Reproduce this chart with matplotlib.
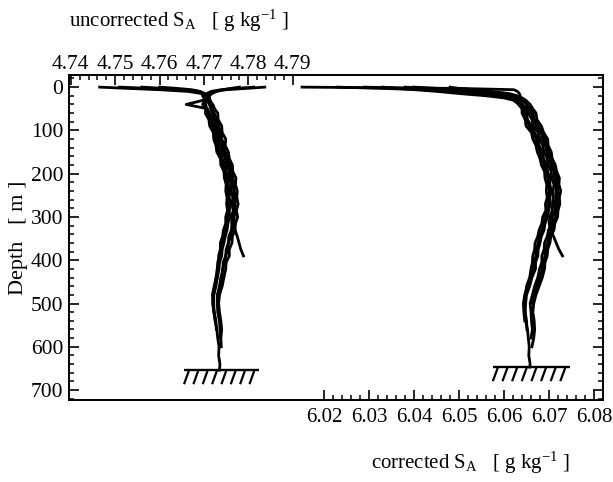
import numpy as np
import matplotlib
matplotlib.use("Agg")
import matplotlib.pyplot as plt
from matplotlib.ticker import FixedLocator, MultipleLocator

plt.rcParams['font.family'] = ['Liberation Serif', 'DejaVu Serif']
plt.rcParams['mathtext.fontset'] = 'custom'
plt.rcParams['mathtext.rm'] = 'Liberation Serif'
plt.rcParams['mathtext.it'] = 'Liberation Serif:italic'

# depth levels [m] of the casts (left bundle ends at 654 m, right at 647 m)
depth_unc = [0, 3, 6, 10, 15, 20, 25, 30, 40, 50, 60, 75, 90, 105, 120, 135, 150, 165,
             180, 195, 210, 225, 240, 255, 270, 285, 300, 315, 330, 345, 360, 375, 390,
             405, 420, 440, 460, 480, 500, 520, 540, 560, 580, 600, 620, 640, 654]
depth_cor = depth_unc[:-1] + [647]

# uncorrected S_A [g/kg], one list per cast
unc_1 = [4.7465, 4.7530, 4.7600, 4.7665, 4.7695,
         4.7699, 4.7700, 4.7703, 4.7697, 4.7704, 4.7703, 4.7711, 4.7713, 4.7721, 4.7722,
         4.7727, 4.7729, 4.7737, 4.7738, 4.7745, 4.7746, 4.7750, 4.7749, 4.7752, 4.7751,
         4.7753, 4.7749, 4.7749, 4.7744, 4.7742, 4.7737, 4.7737, 4.7733, 4.7734, 4.7730,
         4.7730, 4.7725, 4.7722, 4.7720, 4.7723, 4.7725, 4.7729, 4.7731, 4.7734, 4.7733,
         4.7736, 4.7735]
unc_2 = [4.7837, 4.7795, 4.7750, 4.7724, 4.7712,
         4.7708, 4.7713, 4.7712, 4.7720, 4.7724, 4.7731, 4.7732, 4.7740, 4.7741, 4.7749,
         4.7748, 4.7755, 4.7757, 4.7764, 4.7765, 4.7772, 4.7771, 4.7775, 4.7774, 4.7777,
         4.7773, 4.7776, 4.7771, 4.7770, 4.7764, 4.7763, 4.7757, 4.7757, 4.7750, 4.7749,
         4.7745, 4.7741, 4.7735, 4.7733, 4.7735, 4.7738, 4.7740, 4.7738, 4.7739]
unc_3 = [4.7812, 4.7772, 4.7738, 4.7716, 4.7706,
         4.7706, 4.7709, 4.7704, 4.7714, 4.7716, 4.7722, 4.7724, 4.7731, 4.7736, 4.7738,
         4.7743, 4.7745, 4.7752, 4.7754, 4.7761, 4.7762, 4.7766, 4.7767, 4.7768, 4.7769,
         4.7766, 4.7767, 4.7763, 4.7762, 4.7756, 4.7755, 4.7750, 4.7749, 4.7743, 4.7743,
         4.7738, 4.7735, 4.7730, 4.7730, 4.7731, 4.7735, 4.7736, 4.7737]
unc_4 = [4.7600, 4.7640, 4.7672, 4.7692, 4.7702,
         4.7708, 4.7712, 4.7700, 4.7660, 4.7708, 4.7712, 4.7717, 4.7721, 4.7727, 4.7730,
         4.7733, 4.7738, 4.7741, 4.7747, 4.7750, 4.7755, 4.7755, 4.7758, 4.7757, 4.7760,
         4.7757, 4.7758, 4.7754, 4.7752, 4.7748, 4.7745, 4.7741, 4.7740, 4.7735, 4.7734,
         4.7730, 4.7727, 4.7722, 4.7722, 4.7723, 4.7727, 4.7728]
unc_5 = [4.7560, 4.7610, 4.7655, 4.7688, 4.7700,
         4.7706, 4.7708, 4.7710, 4.7712, 4.7716, 4.7718, 4.7723, 4.7726, 4.7732, 4.7734,
         4.7739, 4.7741, 4.7748, 4.7750, 4.7757, 4.7758, 4.7762, 4.7761, 4.7765, 4.7763,
         4.7766, 4.7762, 4.7763, 4.7770, 4.7775, 4.7779, 4.7783, 4.7789]
unc_6 = [4.7780, 4.7760, 4.7742, 4.7728, 4.7718,
         4.7712, 4.7710, 4.7714, 4.7716, 4.7722, 4.7723, 4.7729, 4.7733, 4.7739, 4.7740,
         4.7747, 4.7748, 4.7755, 4.7758, 4.7764, 4.7765, 4.7769, 4.7768, 4.7772, 4.7770,
         4.7771, 4.7768, 4.7768, 4.7763, 4.7760, 4.7755, 4.7753, 4.7749, 4.7747, 4.7742,
         4.7741, 4.7736, 4.7734, 4.7731]
unc_7 = [4.7510, 4.7580, 4.7640, 4.7680, 4.7698,
         4.7697, 4.7701, 4.7699, 4.7704, 4.7706, 4.7710, 4.7713, 4.7716, 4.7724, 4.7724,
         4.7731, 4.7732, 4.7738, 4.7742, 4.7747, 4.7749, 4.7752, 4.7754, 4.7755, 4.7754,
         4.7756, 4.7752, 4.7751, 4.7748, 4.7744, 4.7741, 4.7737, 4.7735, 4.7731, 4.7730,
         4.7727, 4.7723, 4.7719, 4.7720, 4.7722, 4.7726]

# corrected S_A [g/kg], one list per cast
cor_1 = [6.0151, 6.0500, 6.0622, 6.0630, 6.0634,
         6.0636, 6.0637, 6.0636, 6.0637, 6.0640, 6.0640, 6.0647, 6.0649, 6.0661, 6.0664,
         6.0671, 6.0674, 6.0680, 6.0683, 6.0690, 6.0691, 6.0695, 6.0694, 6.0696, 6.0692,
         6.0693, 6.0686, 6.0684, 6.0678, 6.0675, 6.0669, 6.0668, 6.0664, 6.0663, 6.0660,
         6.0657, 6.0650, 6.0648, 6.0644, 6.0647, 6.0648, 6.0652, 6.0654, 6.0656, 6.0655,
         6.0658, 6.0657]
cor_2 = [6.0290, 6.0400, 6.0482, 6.0560, 6.0606,
         6.0626, 6.0640, 6.0648, 6.0658, 6.0664, 6.0671, 6.0673, 6.0683, 6.0688, 6.0697,
         6.0698, 6.0705, 6.0707, 6.0714, 6.0717, 6.0723, 6.0722, 6.0726, 6.0723, 6.0724,
         6.0720, 6.0719, 6.0713, 6.0711, 6.0704, 6.0702, 6.0697, 6.0696, 6.0691, 6.0690,
         6.0685, 6.0678, 6.0671, 6.0666, 6.0664, 6.0667, 6.0668, 6.0666, 6.0662]
cor_3 = [6.0400, 6.0452, 6.0512, 6.0572, 6.0612,
         6.0629, 6.0634, 6.0644, 6.0650, 6.0658, 6.0660, 6.0668, 6.0671, 6.0683, 6.0686,
         6.0692, 6.0695, 6.0701, 6.0704, 6.0711, 6.0712, 6.0716, 6.0716, 6.0716, 6.0713,
         6.0713, 6.0707, 6.0705, 6.0699, 6.0696, 6.0690, 6.0689, 6.0684, 6.0684, 6.0679,
         6.0675, 6.0668, 6.0663, 6.0658, 6.0660, 6.0661, 6.0663, 6.0660]
cor_4 = [6.0330, 6.0362, 6.0402, 6.0452, 6.0502,
         6.0560, 6.0600, 6.0620, 6.0634, 6.0645, 6.0650, 6.0652, 6.0661, 6.0668, 6.0676,
         6.0678, 6.0685, 6.0688, 6.0694, 6.0697, 6.0702, 6.0702, 6.0705, 6.0702, 6.0703,
         6.0699, 6.0697, 6.0691, 6.0689, 6.0683, 6.0680, 6.0676, 6.0675, 6.0670, 6.0670,
         6.0662, 6.0657, 6.0650, 6.0648, 6.0647, 6.0650, 6.0651]
cor_5 = [6.0480, 6.0500, 6.0530, 6.0560, 6.0585,
         6.0600, 6.0615, 6.0626, 6.0640, 6.0651, 6.0654, 6.0662, 6.0665, 6.0676, 6.0680,
         6.0686, 6.0689, 6.0696, 6.0698, 6.0705, 6.0706, 6.0711, 6.0709, 6.0710, 6.0708,
         6.0707, 6.0702, 6.0700, 6.0704, 6.0710, 6.0716, 6.0722, 6.0730]
cor_6 = [6.0380, 6.0430, 6.0470, 6.0520, 6.0580,
         6.0610, 6.0625, 6.0638, 6.0650, 6.0657, 6.0665, 6.0667, 6.0677, 6.0682, 6.0692,
         6.0694, 6.0700, 6.0703, 6.0710, 6.0713, 6.0718, 6.0718, 6.0720, 6.0718, 6.0719,
         6.0715, 6.0714, 6.0708, 6.0706, 6.0699, 6.0697, 6.0692, 6.0691, 6.0687, 6.0685,
         6.0680, 6.0673, 6.0667, 6.0663]
cor_7 = [6.0230, 6.0330, 6.0420, 6.0500, 6.0560,
         6.0596, 6.0612, 6.0624, 6.0632, 6.0640, 6.0645, 6.0650, 6.0656, 6.0665, 6.0671,
         6.0675, 6.0680, 6.0685, 6.0689, 6.0694, 6.0697, 6.0699, 6.0701, 6.0698, 6.0699,
         6.0695, 6.0692, 6.0688, 6.0684, 6.0679, 6.0676, 6.0672, 6.0671, 6.0667, 6.0665,
         6.0659, 6.0652, 6.0646, 6.0643, 6.0644, 6.0646]

# sea floor: (x start, x end, depth)
floor_unc = (4.7656, 4.7824, 654)
floor_cor = (6.0576, 6.0747, 647)

unc_ticks = [4.74, 4.75, 4.76, 4.77, 4.78, 4.79]
cor_ticks = [6.02, 6.03, 6.04, 6.05, 6.06, 6.07, 6.08]
depth_ticks = [0, 100, 200, 300, 400, 500, 600, 700]

fig = plt.figure(figsize=(6.13, 4.82), dpi=100)
ax = fig.add_axes([0.1126, 0.1701, 0.8711, 0.6743])
ax_top = ax.twiny()


def draw_floor(a, fl):
    x0, x1, d = fl
    a.plot([x0, x1], [d, d], color='k', lw=1.7, solid_capstyle='butt')
    dx = (x1 - x0) / 13.0
    for xt in np.linspace(x0 + 0.7 * dx, x1 - 0.9 * dx, 8):
        a.plot([xt, xt - 0.7 * dx], [d + 4, d + 30], color='k', lw=1.6)


for v in [unc_1, unc_2, unc_3, unc_4, unc_5, unc_6, unc_7]:
    ax_top.plot(v, depth_unc[:len(v)], color='k', lw=2.0)
for v in [cor_1, cor_2, cor_3, cor_4, cor_5, cor_6, cor_7]:
    ax.plot(v, depth_cor[:len(v)], color='k', lw=2.0)
draw_floor(ax_top, floor_unc)
draw_floor(ax, floor_cor)

ax.set_xlim(5.9633, 6.0820)
ax_top.set_xlim(4.7396, 4.8599)
ax.set_ylim(723, -28)

for s in list(ax.spines.values()) + list(ax_top.spines.values()):
    s.set_linewidth(1.3)

ax.xaxis.set_major_locator(FixedLocator(cor_ticks))
ax.xaxis.set_minor_locator(FixedLocator(np.arange(6.02, 6.0801, 0.002)))
ax.set_xticklabels([f"{t:.2f}" for t in cor_ticks])
ax_top.xaxis.set_major_locator(FixedLocator(unc_ticks))
ax_top.xaxis.set_minor_locator(FixedLocator(np.arange(4.74, 4.7901, 0.002)))
ax_top.set_xticklabels([f"{t:.2f}" for t in unc_ticks])

ax.yaxis.set_major_locator(FixedLocator(depth_ticks))
ax.yaxis.set_minor_locator(MultipleLocator(20))
ax.set_yticklabels([str(t) for t in depth_ticks])

ax.tick_params(axis='x', which='both', direction='in', top=False, bottom=True,
               labelsize=15, pad=6)
ax.tick_params(axis='y', which='both', direction='in', left=True, right=True,
               labelsize=15.5, pad=4)
ax.tick_params(which='major', length=7, width=1.2)
ax.tick_params(which='minor', length=3.5, width=1.1)
ax_top.tick_params(axis='x', which='both', direction='in', top=True, bottom=False,
                   labelsize=15.5, pad=1)
ax_top.tick_params(which='major', length=7, width=1.2)
ax_top.tick_params(which='minor', length=3.5, width=1.1)

ax.set_ylabel("Depth   [ m ]", fontsize=16, labelpad=2)
fig.text(179 / 613, 1 - 21 / 482, r"uncorrected S$_{\mathrm{A}}$   [ g kg$^{-1}$ ]",
         ha='center', va='center', fontsize=15)
fig.text(470 / 613, 1 - 463 / 482, r"corrected S$_{\mathrm{A}}$   [ g kg$^{-1}$ ]",
         ha='center', va='center', fontsize=15)

fig.savefig("out.png", dpi=100)
